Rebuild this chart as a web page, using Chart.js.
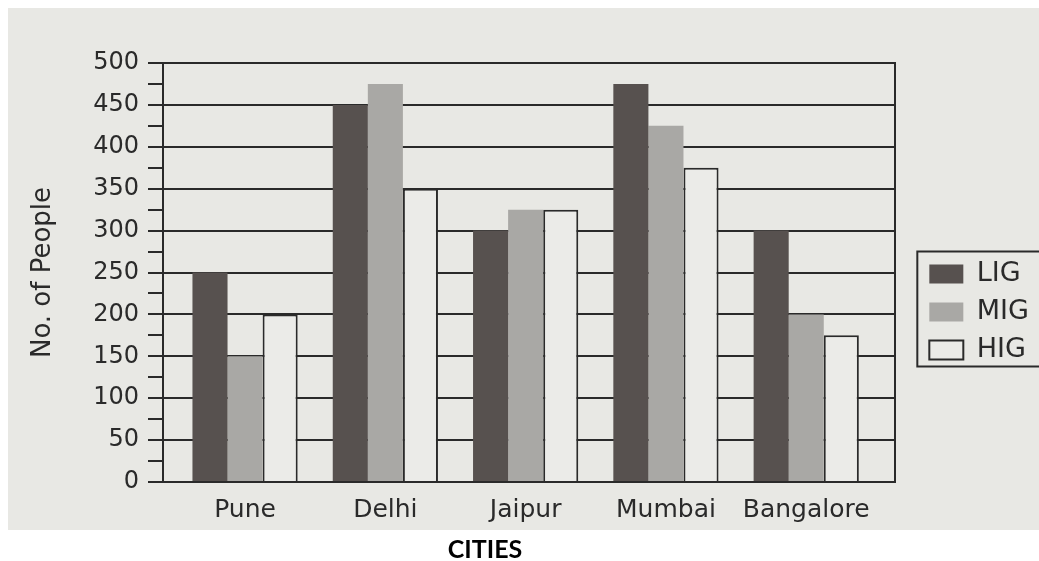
<!DOCTYPE html>
<html><head><meta charset="utf-8">
<script src="https://cdn.jsdelivr.net/npm/chart.js@4/dist/chart.umd.min.js"></script>
<style>
html,body{margin:0;padding:0;background:#fff;overflow:hidden}
#wrap{width:1039px;height:561px;position:relative}
#xtitle{position:absolute;left:385px;top:536px;width:200px;text-align:center;font:bold 25px/25px Lato,"Liberation Sans",sans-serif;color:#000}
</style>
</head><body><div id="wrap"><canvas id="c" width="1039" height="561"></canvas><div id="xtitle"></div></div>
<script>
const categories = ['Pune', 'Delhi', 'Jaipur', 'Mumbai', 'Bangalore'];
const ligValues = [250, 450, 300, 475, 300];
const migValues = [150, 475, 325, 425, 200];
const higValues = [200, 350, 325, 375, 175];
const seriesNames = ['LIG', 'MIG', 'HIG'];
const xAxisTitle = 'CITIES';
const yAxisTitle = 'No. of People';
const yMin = 0, yMax = 500, yStep = 25, yLabelStep = 50;

document.getElementById('xtitle').textContent = xAxisTitle;

const INK = '#2a2a2a';
const PAPER = '#e8e8e4';
const toPoints = vals => vals.map((v, i) => ({x: i, y: v}));

const bgPlugin = {
  id: 'paper',
  beforeDraw(chart) {
    const c = chart.ctx;
    c.save();
    c.fillStyle = '#ffffff';
    c.fillRect(0, 0, chart.width, chart.height);
    c.fillStyle = PAPER;
    c.fillRect(8, 8, chart.width - 8, 522);
    c.restore();
  }
};
const legendBoxPlugin = {
  id: 'legendBox',
  afterDraw(chart) {
    const lg = chart.legend;
    if (!lg || !lg.legendHitBoxes || !lg.legendHitBoxes.length) return;
    const hb = lg.legendHitBoxes;
    const top = hb[0].top - 9;
    const last = hb[hb.length - 1];
    const bottom = last.top + last.height + 3;
    const c = chart.ctx;
    c.save();
    c.strokeStyle = INK;
    c.lineWidth = 2;
    c.strokeRect(lg.left - 1, top, chart.width + 10 - lg.left, bottom - top);
    c.restore();
  }
};

new Chart(document.getElementById('c'), {
  type: 'bar',
  data: {
    datasets: [
      {label: seriesNames[0], data: toPoints(ligValues), backgroundColor: '#57514f', borderWidth: 0},
      {label: seriesNames[1], data: toPoints(migValues), backgroundColor: '#a9a8a5', borderWidth: 0},
      {label: seriesNames[2], data: toPoints(higValues), backgroundColor: '#ebebe8', borderColor: INK, borderWidth: 2}
    ]
  },
  options: {
    responsive: false,
    animation: false,
    devicePixelRatio: 1,
    layout: {padding: {top: 63, left: 0, right: 0, bottom: 0}},
    datasets: {bar: {categoryPercentage: 0.75, barPercentage: 1.0}},
    plugins: {
      tooltip: {enabled: false},
      legend: {
        display: true,
        position: 'right',
        align: 'center',
        labels: {
          boxWidth: 34, boxHeight: 19, padding: 11,
          color: INK,
          font: {family: 'DejaVu Sans', size: 27}
        }
      }
    },
    scales: {
      x: {
        type: 'linear',
        bounds: 'data',
        offset: false,
        min: -0.585,
        max: 4.635,
        afterBuildTicks: s => { s.ticks = categories.map((c, i) => ({value: i})); },
        afterFit: s => { s.height = 79; },
        grid: {display: false, drawTicks: false},
        border: {display: true, color: INK, width: 2},
        ticks: {
          autoSkip: false, maxRotation: 0, padding: 13,
          color: INK,
          font: {family: 'DejaVu Sans', size: 25},
          callback: v => (categories[v] !== undefined ? categories[v] : '')
        },
        title: {display: false}
      },
      y: {
        type: 'linear',
        position: 'left',
        min: yMin, max: yMax,
        afterFit: s => { s.width = 163; },
        grid: {
          color: ctx => (ctx.tick && ctx.tick.value % yLabelStep === 0 ? INK : 'rgba(0,0,0,0)'),
          tickColor: INK,
          lineWidth: 2,
          tickLength: 15,
          drawTicks: true
        },
        border: {display: true, color: INK, width: 2},
        ticks: {
          stepSize: yStep, autoSkip: false, padding: 9,
          color: INK,
          font: {family: 'DejaVu Sans', size: 24},
          callback: v => (v % yLabelStep === 0 ? String(v) : '')
        },
        title: {
          display: true, text: yAxisTitle, color: INK,
          font: {family: 'DejaVu Sans', size: 26, lineHeight: 1},
          padding: {top: 30, bottom: 0}
        }
      },
      y2: {
        type: 'linear',
        position: 'right',
        min: yMin, max: yMax,
        afterFit: s => { s.width = 23; },
        grid: {drawOnChartArea: false, drawTicks: false},
        border: {display: true, color: INK, width: 2},
        ticks: {display: false}
      }
    }
  },
  plugins: [bgPlugin, legendBoxPlugin]
});
</script></body></html>
